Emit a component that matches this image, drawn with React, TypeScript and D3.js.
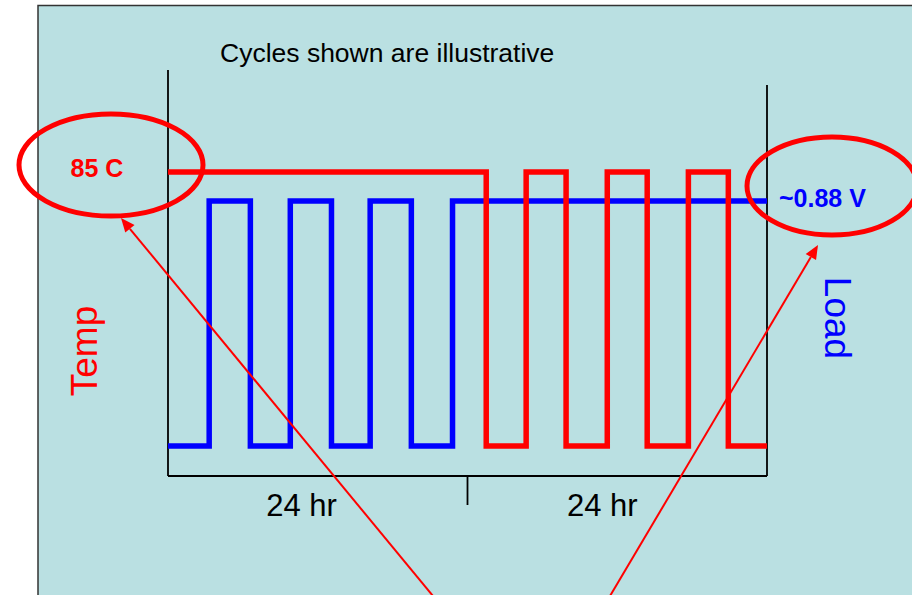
import React from "react";
import * as d3 from "d3";

// hours on the x axis, two 24 hr halves
const hours = [0, 24, 48];
const tickLabels = ["24 hr", "24 hr"];
const tickLabelHours = [10.7, 34.8];

// temperature (C): held at 85, then cycled in the second day
const tempTimes = [0, 25.5, 28.7, 31.9, 35.2, 38.4, 41.7, 44.9, 48];
const tempValues = [85, 25, 85, 25, 85, 25, 85, 25, 25];

// load (V): cycled in the first day, then held at ~0.88
const loadTimes = [0, 3.3, 6.6, 9.8, 13.1, 16.2, 19.5, 22.8, 48];
const loadValues = [0, 0.88, 0, 0.88, 0, 0.88, 0, 0.88, 0.88];

const title = "Cycles shown are illustrative";
const tempLabel = "85 C";
const loadLabel = "~0.88 V";

const W = 912;
const H = 595;
const RED = "#ff0000";
const BLUE = "#0000ff";

const x = d3.scaleLinear().domain([0, 48]).range([168, 767]);
const yTemp = d3.scaleLinear().domain([25, 85]).range([446, 172]);
const yLoad = d3.scaleLinear().domain([0, 0.88]).range([446, 201]);

type Pt = { t: number; v: number };
const tempData: Pt[] = tempTimes.map((t, i) => ({ t, v: tempValues[i] }));
const loadData: Pt[] = loadTimes.map((t, i) => ({ t, v: loadValues[i] }));

const tempLine = d3.line<Pt>().x(d => x(d.t)).y(d => yTemp(d.v)).curve(d3.curveStepAfter);
const loadLine = d3.line<Pt>().x(d => x(d.t)).y(d => yLoad(d.v)).curve(d3.curveStepAfter);

const arrow = (x1: number, y1: number, x2: number, y2: number) => {
	const a = Math.atan2(y2 - y1, x2 - x1);
	const len = 14, half = 6;
	const bx = x2 - len * Math.cos(a), by = y2 - len * Math.sin(a);
	const px = -Math.sin(a) * half, py = Math.cos(a) * half;
	return (
		<g>
			<line x1={x1} y1={y1} x2={bx} y2={by} stroke={RED} strokeWidth={2} />
			<path d={`M${x2},${y2}L${bx + px},${by + py}L${bx - px},${by - py}Z`} fill={RED} />
		</g>
	);
};

const App = () => {
	const font = "'Liberation Sans', Arial, sans-serif";
	return (
		<div style={{ position: "absolute", left: 0, top: 0 }}>
			<svg width={W} height={H} style={{ display: "block", fontFamily: font }}>
				<rect x={0} y={0} width={W} height={H} fill="#ffffff" />
				<rect x={38} y={5.5} width={W} height={H} fill="#bae0e2" stroke="#333" strokeWidth={1.5} />

				<text x={220} y={62} fontSize={26.5} fill="#000">{title}</text>

				{/* axes */}
				<line x1={x(0)} y1={70} x2={x(0)} y2={476} stroke="#000" strokeWidth={1.8} />
				<line x1={x(48)} y1={85} x2={x(48)} y2={476} stroke="#000" strokeWidth={1.8} />
				<line x1={x(0)} y1={476} x2={x(48)} y2={476} stroke="#000" strokeWidth={1.8} />
				<line x1={x(hours[1])} y1={476} x2={x(hours[1])} y2={505} stroke="#000" strokeWidth={1.8} />
				{tickLabels.map((l, i) => (
					<text key={i} x={x(tickLabelHours[i])} y={516} fontSize={31} textAnchor="middle" fill="#000">{l}</text>
				))}

				<path d={loadLine(loadData) || ""} fill="none" stroke={BLUE} strokeWidth={5.5} strokeLinejoin="miter" />
				<path d={tempLine(tempData) || ""} fill="none" stroke={RED} strokeWidth={5.5} strokeLinejoin="miter" />

				<text transform="translate(97,351) rotate(-90)" fontSize={37} textAnchor="middle" fill={RED}>Temp</text>
				<text transform="translate(825,318) rotate(90)" fontSize={37} textAnchor="middle" fill={BLUE}>Load</text>

				<text x={97} y={177} fontSize={25} fontWeight="bold" textAnchor="middle" fill={RED}>{tempLabel}</text>
				<text x={779} y={207} fontSize={25} fontWeight="bold" fill={BLUE}>{loadLabel}</text>

				<ellipse cx={111} cy={165} rx={92} ry={51} fill="none" stroke={RED} strokeWidth={5} />
				<ellipse cx={832} cy={186} rx={85} ry={49} fill="none" stroke={RED} strokeWidth={5} />

				{arrow(433, 596, 121, 218)}
				{arrow(610, 596, 818, 245)}
			</svg>
		</div>
	);
};

export default App;
